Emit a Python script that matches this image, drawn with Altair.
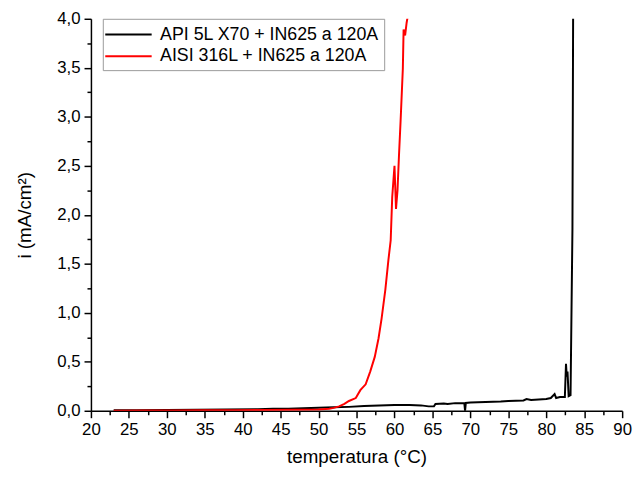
import altair as alt
import pandas as pd

series_names = ["API 5L X70 + IN625 a 120A", "AISI 316L + IN625 a 120A"]
series_colors = ["#000000", "#ff0000"]

# API 5L X70 + IN625 a 120A (black)
black_T = [23.0, 26.0, 30.0, 34.0, 38.0, 42.0, 44.0, 46.0, 48.0, 50.0, 52.0, 54.0,
           56.0, 58.0, 60.0, 62.0, 63.5, 64.5, 65.2, 65.4, 66.5, 67.0, 68.0, 69.2,
           69.3, 69.4, 70.0, 72.0, 74.0, 75.0, 77.0, 77.4, 78.0, 80.0, 80.6, 81.1,
           81.3, 81.8, 82.45, 82.6, 82.7, 82.8, 82.95, 83.2, 83.45, 83.55]
black_i = [0.005, 0.006, 0.008, 0.010, 0.012, 0.015, 0.020, 0.022, 0.025, 0.030, 0.035, 0.040,
           0.048, 0.055, 0.060, 0.058, 0.055, 0.045, 0.045, 0.070, 0.075, 0.070, 0.078, 0.080,
           0.000, 0.080, 0.085, 0.090, 0.095, 0.100, 0.105, 0.120, 0.110, 0.120, 0.130, 0.170,
           0.130, 0.140, 0.140, 0.480, 0.350, 0.400, 0.150, 0.160, 1.860, 4.300]

# AISI 316L + IN625 a 120A (red)
red_T = [23.0, 27.0, 31.0, 35.0, 39.0, 43.0, 47.0, 50.0, 51.4, 52.0, 52.7, 53.4, 54.0,
         54.9, 55.5, 56.2, 56.8, 57.4, 57.9, 58.3, 58.8, 59.2, 59.5, 59.7, 60.0, 60.2,
         60.4, 60.6, 60.8, 61.1, 61.2, 61.4, 61.6, 61.8]
red_i = [0.000, 0.002, 0.004, 0.005, 0.006, 0.008, 0.010, 0.012, 0.020, 0.030, 0.045, 0.070, 0.100,
         0.130, 0.210, 0.270, 0.400, 0.550, 0.740, 0.940, 1.240, 1.540, 1.740, 2.180, 2.500, 2.060,
         2.250, 2.620, 2.950, 3.490, 3.890, 3.830, 3.960, 4.050]

x_major = [20, 25, 30, 35, 40, 45, 50, 55, 60, 65, 70, 75, 80, 85, 90]
x_minor = [22.5, 27.5, 32.5, 37.5, 42.5, 47.5, 52.5, 57.5, 62.5, 67.5, 72.5, 77.5, 82.5, 87.5]
y_major = [0.0, 0.5, 1.0, 1.5, 2.0, 2.5, 3.0, 3.5, 4.0]
y_minor = [0.25, 0.75, 1.25, 1.75, 2.25, 2.75, 3.25, 3.75]

df_b = pd.DataFrame({"T": black_T, "i": black_i, "s": series_names[0], "k": range(len(black_T))})
df_r = pd.DataFrame({"T": red_T, "i": red_i, "s": series_names[1], "k": range(len(red_T))})

FONT = "Liberation Sans"
xscale = alt.Scale(domain=[20, 90], nice=False, zero=False)
yscale = alt.Scale(domain=[0, 4], nice=False, zero=False)

main_x_axis = alt.Axis(values=x_major, title="temperatura (°C)", orient="bottom", grid=False,
                       tickSize=7, tickWidth=1.5, tickColor="#000000", domainColor="#000000",
                       domainWidth=1.5, labelFont=FONT, labelFontSize=17, labelColor="#000000",
                       labelPadding=4, labelFlush=False, labelOverlap=False, titleFont=FONT,
                       titleFontSize=19, titleFontWeight="normal", titleColor="#000000",
                       titlePadding=10)
main_y_axis = alt.Axis(values=y_major, title="i (mA/cm²)", orient="left", grid=False,
                       tickSize=7, tickWidth=1.5, tickColor="#000000", domainColor="#000000",
                       domainWidth=1.5, labelFont=FONT, labelFontSize=17, labelColor="#000000",
                       labelPadding=4, labelFlush=False, labelOverlap=False,
                       labelExpr="replace(format(datum.value, '.1f'), '.', ',')",
                       titleFont=FONT, titleFontSize=19, titleFontWeight="normal",
                       titleColor="#000000", titlePadding=23)
minor_x_axis = alt.Axis(values=x_minor, title="", orient="bottom", grid=False, labels=False,
                        domain=False, tickSize=4, tickWidth=1.5, tickColor="#000000")
minor_y_axis = alt.Axis(values=y_minor, title="", orient="left", grid=False, labels=False,
                        domain=False, tickSize=4, tickWidth=1.5, tickColor="#000000")

color = alt.Color("s:N", scale=alt.Scale(domain=series_names, range=series_colors),
                  legend=alt.Legend(title=None, orient="none", legendX=12, legendY=0,
                                    symbolType="M-2.35,0H2.35", symbolSize=400,
                                    symbolStrokeWidth=2, symbolOffset=10,
                                    labelFont=FONT, labelFontSize=18, labelColor="#000000",
                                    labelLimit=0, labelOffset=21, rowPadding=2, padding=5,
                                    strokeColor="#999999", fillColor="#ffffff"))

black = alt.Chart(df_b).mark_line(strokeWidth=2, clip=True).encode(
    x=alt.X("T:Q", scale=xscale, axis=main_x_axis),
    y=alt.Y("i:Q", scale=yscale, axis=main_y_axis),
    color=color,
    order="k:Q",
)
red = alt.Chart(df_r).mark_line(strokeWidth=2, clip=True).encode(
    x=alt.X("T:Q", scale=xscale, axis=None),
    y=alt.Y("i:Q", scale=yscale, axis=None),
    color=color,
    order="k:Q",
)
minor = alt.Chart(df_r).mark_point(opacity=0).encode(
    x=alt.X("T:Q", scale=xscale, axis=minor_x_axis),
    y=alt.Y("i:Q", scale=yscale, axis=minor_y_axis),
)

chart = alt.layer(minor, black, red).resolve_axis(x="independent", y="independent").properties(
    width=538, height=397,
    autosize=alt.AutoSizeParams(type="none"),
    padding={"left": 84, "top": 8, "right": 12, "bottom": 54},
    background="#ffffff",
).configure_view(stroke=None)

chart.save("out.html", embed_options={"renderer": "svg", "actions": False})
